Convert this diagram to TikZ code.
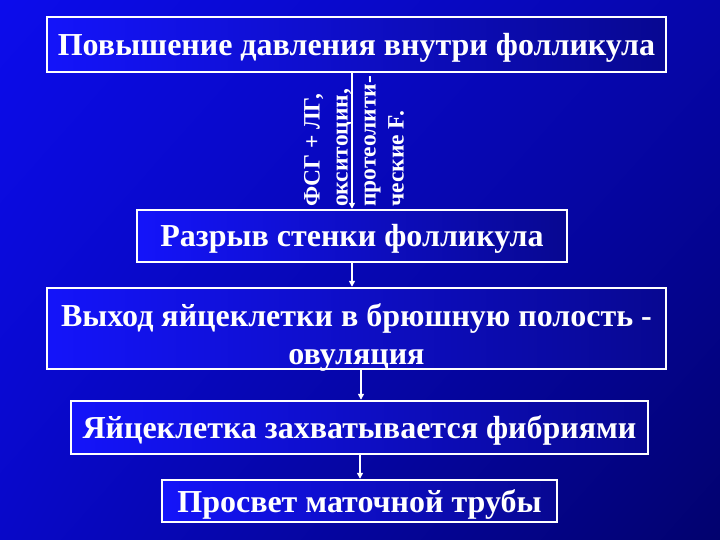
\documentclass[tikz,border=0pt]{standalone}
\usepackage{fontspec}
\setmainfont{Liberation Serif}
\usetikzlibrary{arrows.meta,shadings}
\definecolor{bgTL}{RGB}{12,12,236}
\definecolor{bgTR}{RGB}{6,6,170}
\definecolor{bgBL}{RGB}{8,8,200}
\definecolor{bgBR}{RGB}{2,2,110}
\definecolor{boxL}{RGB}{20,20,250}
\definecolor{boxR}{RGB}{8,8,145}
\tikzset{
  stagebox/.style={draw=white, line width=2.4pt, left color=boxL, right color=boxR,
    text=white, font=\fontsize{32}{38}\selectfont\bfseries, align=center, inner sep=0pt,
    text height=25pt, text depth=3pt},
  arr/.style={draw=white, line width=1.4pt, -{Triangle[width=6pt,length=6pt]}},
}
\begin{document}
\begin{tikzpicture}[x=1pt,y=1pt]
\useasboundingbox (0,0) rectangle (720,-540);
\shade[upper left=bgTL, upper right=bgTR, lower left=bgBL, lower right=bgBR] (0,0) rectangle (720,-540);

\node[stagebox, minimum width=619pt, minimum height=55pt] (b1) at (356.5,-44.5) {Повышение давления внутри фолликула};
\node[stagebox, minimum width=430pt, minimum height=52pt] (b2) at (352,-236) {Разрыв стенки фолликула};
\node[stagebox, minimum width=619pt, minimum height=81pt, text height=50pt, text depth=18pt] (b3) at (356.5,-328.5)
  {\begin{tabular}{@{}c@{}}Выход яйцеклетки в брюшную полость -\\овуляция\end{tabular}};
\node[stagebox, minimum width=577pt, minimum height=53pt] (b4) at (359.5,-427.5) {Яйцеклетка захватывается фибриями};
\node[stagebox, minimum width=395pt, minimum height=42pt] (b5) at (359.5,-501) {Просвет маточной трубы};

\node[rotate=90, anchor=west, inner sep=0pt, align=left, text=white,
  font=\fontsize{23.5}{28}\selectfont\bfseries] (fac) at (354,-207)
  {ФСГ + ЛГ,\\окситоцин,\\протеолити-\\ческие F.};

\coordinate (x1) at (352,0);
\coordinate (x2) at (361,0);
\coordinate (x3) at (360,0);
\draw[arr] (x1 |- b1.south) -- (x1 |- b2.north);
\draw[arr] (x1 |- b2.south) -- (x1 |- b3.north);
\draw[arr] (x2 |- b3.south) -- (x2 |- b4.north);
\draw[arr] (x3 |- b4.south) -- (x3 |- b5.north);
\end{tikzpicture}
\end{document}
